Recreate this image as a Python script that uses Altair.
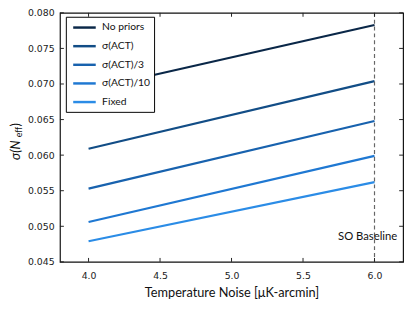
import altair as alt
import pandas as pd

# ---- data ----
series = ["No priors", "σ(ACT)", "σ(ACT)/3", "σ(ACT)/10", "Fixed"]
noise_start = 4.0
noise_end = 6.0
sigma_at_start = [0.0692, 0.0609, 0.0553, 0.0506, 0.0479]
sigma_at_end = [0.0783, 0.0704, 0.0648, 0.0599, 0.0562]
colors = ["#0a2748", "#124d86", "#1862ae", "#1f78d2", "#2b8ce6"]

x_ticks = [4.0, 4.5, 5.0, 5.5, 6.0]
y_ticks = [0.045, 0.050, 0.055, 0.060, 0.065, 0.070, 0.075, 0.080]
baseline_noise = [6.0]
baseline_label = ["SO Baseline"]

W, H = 350, 254
FONT = "Lato"
TICKFONT = "DejaVu Sans"

rows = []
for s, a, b in zip(series, sigma_at_start, sigma_at_end):
    rows.append({"series": s, "noise": noise_start, "sigma": a})
    rows.append({"series": s, "noise": noise_end, "sigma": b})
df = pd.DataFrame(rows)

xscale = alt.Scale(domain=[3.8, 6.2], nice=False, zero=False)
yscale = alt.Scale(domain=[0.045, 0.080], nice=False, zero=False)

xaxis = alt.Axis(values=x_ticks, format=".1f", ticks=False, domain=False, grid=False,
                 labelPadding=9, labelFont=TICKFONT, labelFontSize=9.5, labelColor="#222",
                 labelOverlap=False,
                 title="Temperature Noise [μK-arcmin]", titleFont=FONT, titleFontSize=13,
                 titleFontWeight="normal", titlePadding=7, titleColor="#111")
yaxis = alt.Axis(values=y_ticks, format=".3f", ticks=False, domain=False, grid=False,
                 labelPadding=6, labelFont=TICKFONT, labelFontSize=9.5, labelColor="#222",
                 labelOverlap=False, labelBound=False, title=None)


def X(field):
    return alt.X(field, scale=xscale, axis=xaxis)


def Y(field):
    return alt.Y(field, scale=yscale, axis=yaxis)


lines = alt.Chart(df).mark_line(strokeWidth=2.2).encode(
    x=X("noise:Q"),
    y=Y("sigma:Q"),
    color=alt.Color("series:N", scale=alt.Scale(domain=series, range=colors),
                    sort=series,
                    legend=alt.Legend(title=None, orient="none", legendX=6, legendY=4,
                                      symbolType="M-2,0H2", symbolSize=132,
                                      symbolStrokeWidth=2.5, symbolOffset=8,
                                      labelFont=FONT, labelFontSize=10.5, labelColor="#111",
                                      fillColor="white", strokeColor="black",
                                      padding=4, rowPadding=6, labelOffset=11,
                                      cornerRadius=0)),
)

bdf = pd.DataFrame({"noise": baseline_noise, "label": baseline_label})
vline = alt.Chart(bdf).mark_rule(color="#666", strokeDash=[4, 3], strokeWidth=1.2).encode(
    x=X("noise:Q")
)
vtext = alt.Chart(bdf).mark_text(font=FONT, fontSize=11.5, color="#111", dx=-7,
                                 align="center", baseline="middle").encode(
    x=X("noise:Q"), y=alt.value(229), text="label:N"
)

xt = pd.DataFrame({"v": x_ticks})
yt = pd.DataFrame({"v": y_ticks})
TL = 4
tick_style = dict(color="#222", strokeWidth=1)
ytick_l = alt.Chart(yt).mark_rule(**tick_style).encode(
    y=Y("v:Q"), x=alt.value(0), x2=alt.value(TL))
ytick_r = alt.Chart(yt).mark_rule(**tick_style).encode(
    y=Y("v:Q"), x=alt.value(W - TL), x2=alt.value(W))
xtick_t = alt.Chart(xt).mark_rule(**tick_style).encode(
    x=X("v:Q"), y=alt.value(0), y2=alt.value(TL))
xtick_b = alt.Chart(xt).mark_rule(**tick_style).encode(
    x=X("v:Q"), y=alt.value(H - TL), y2=alt.value(H))

# y-axis title composed as sigma(N_eff) with subscript
title_df = pd.DataFrame({"t": ["σ(N"], "e": ["eff"], "p": [")"]})
yt1 = alt.Chart(title_df).mark_text(font=FONT, fontSize=13, fontStyle="italic", angle=270,
                                    align="left", baseline="middle", color="#111").encode(
    x=alt.value(-45), y=alt.value(150), text="t:N")
yt2 = alt.Chart(title_df).mark_text(font=FONT, fontSize=9, angle=270,
                                    align="left", baseline="middle", color="#111").encode(
    x=alt.value(-42), y=alt.value(127), text="e:N")
yt3 = alt.Chart(title_df).mark_text(font=FONT, fontSize=13, angle=270,
                                    align="left", baseline="middle", color="#111").encode(
    x=alt.value(-45), y=alt.value(116), text="p:N")

chart = alt.layer(lines, vline, vtext, ytick_l, ytick_r, xtick_t, xtick_b, yt1, yt2, yt3).properties(
    width=W, height=H,
    autosize=alt.AutoSizeParams(type="none"),
    padding={"left": 53, "top": 2, "right": 5, "bottom": 38},
).configure_view(stroke="#111", strokeWidth=1.2).configure_axis(labelOverlap=False)

chart.save("out.html", embed_options={"renderer": "svg", "actions": False})
